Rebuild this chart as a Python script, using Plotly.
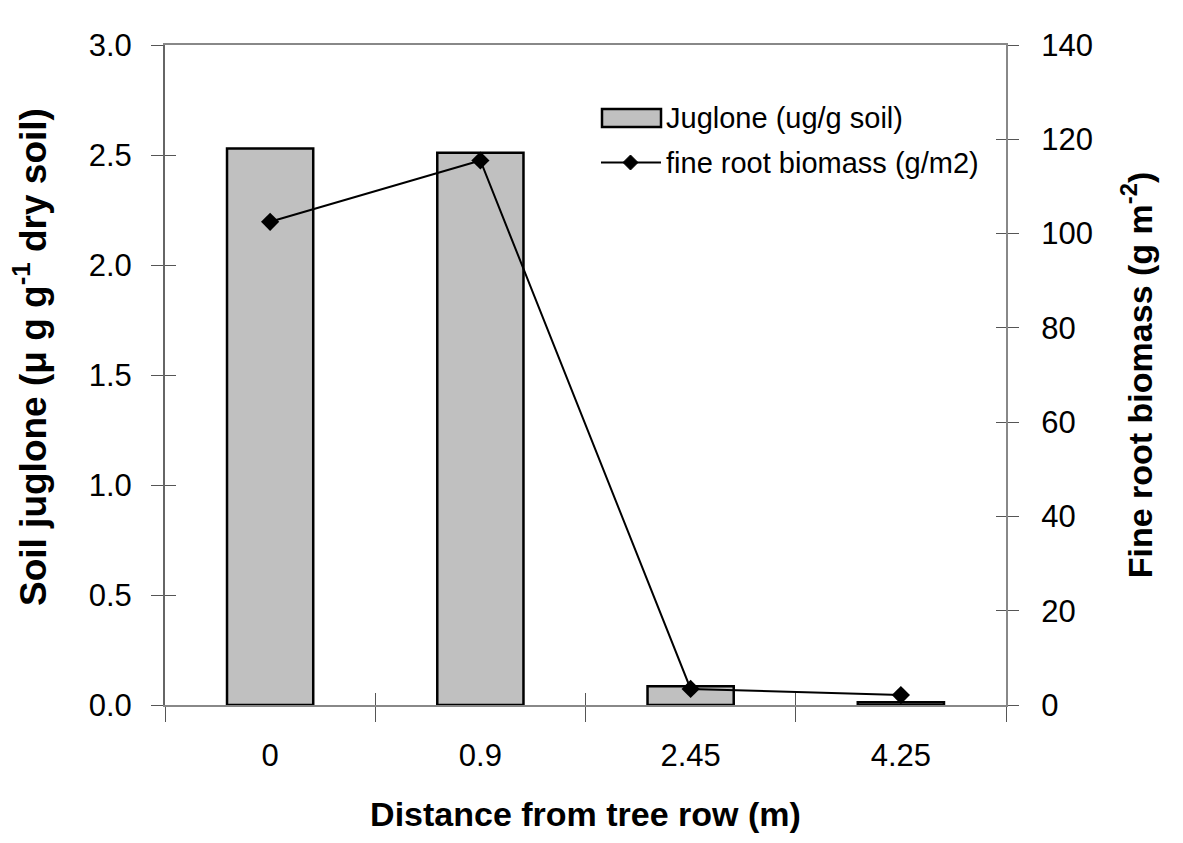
import plotly.graph_objects as go

categories = ["0", "0.9", "2.45", "4.25"]
juglone = [2.53, 2.51, 0.085, 0.012]
root_biomass = [102.5, 115.5, 3.4, 2.1]
y_ticks = [0.0, 0.5, 1.0, 1.5, 2.0, 2.5, 3.0]
y2_ticks = [0, 20, 40, 60, 80, 100, 120, 140]
legend_labels = ["Juglone (ug/g soil)", "fine root biomass (g/m2)"]

FONT = "Liberation Sans, Arial, sans-serif"
W, H = 1183, 843
L, R, T, B = 165, 177, 45, 138
PW, PH = W - L - R, H - T - B


def px(x):
    return (x - L) / PW


def py(y):
    return (H - B - y) / PH


idx = list(range(len(categories)))

fig = go.Figure()
fig.add_trace(go.Bar(
    x=categories, y=juglone, name=legend_labels[0],
    marker=dict(color="#C0C0C0", line=dict(color="black", width=2.5)),
    width=0.41,
))
fig.add_trace(go.Scatter(
    x=categories, y=root_biomass, name=legend_labels[1],
    mode="lines+markers", yaxis="y2",
    line=dict(color="black", width=2),
    marker=dict(symbol="diamond", size=14, color="black"),
))
# invisible helper traces so the overlay axes (inner halves of the crossing ticks) get drawn
fig.add_trace(go.Scatter(x=idx, y=juglone, xaxis="x2", yaxis="y3", mode="markers",
                         marker=dict(opacity=0), hoverinfo="skip", showlegend=False))
fig.add_trace(go.Scatter(x=idx, y=root_biomass, xaxis="x2", yaxis="y4", mode="markers",
                         marker=dict(opacity=0), hoverinfo="skip", showlegend=False))

tick_font = dict(size=31)
fig.update_layout(
    width=W, height=H,
    margin=dict(l=L, r=R, t=T, b=B),
    paper_bgcolor="white", plot_bgcolor="white",
    font=dict(family=FONT, color="black", size=31),
    showlegend=False,
    xaxis=dict(
        type="category", tickson="boundaries", ticks="outside", ticklen=15,
        tickcolor="#555", tickwidth=1, showline=True, linecolor="#888", linewidth=2,
        mirror=True, showgrid=False, ticklabelstandoff=22,
        title=dict(text="<b>Distance from tree row (m)</b>", font=dict(size=34), standoff=30),
        tickfont=tick_font,
    ),
    xaxis2=dict(
        overlaying="x", range=[-0.5, 3.5], tickvals=[-0.5, 0.5, 1.5, 2.5, 3.5],
        ticks="inside", ticklen=12, tickcolor="#555", tickwidth=1,
        showticklabels=False, showgrid=False, zeroline=False, showline=False,
        side="bottom", anchor="y",
    ),
    yaxis=dict(
        range=[0, 3.0], tickvals=y_ticks, ticktext=[f"{v:.1f}" for v in y_ticks],
        ticks="outside", ticklen=12, tickcolor="#555", tickwidth=1,
        showline=True, linecolor="#666", linewidth=2, showgrid=False, zeroline=False,
        ticklabelstandoff=13,
        tickfont=tick_font,
    ),
    yaxis3=dict(
        overlaying="y", range=[0, 3.0], tickvals=y_ticks, side="left", anchor="x2",
        ticks="inside", ticklen=11, tickcolor="#555", tickwidth=1,
        showticklabels=False, showgrid=False, zeroline=False, showline=False,
    ),
    yaxis2=dict(
        range=[0, 140], tickvals=y2_ticks, overlaying="y", side="right",
        ticks="outside", ticklen=11, tickcolor="#555", tickwidth=1,
        showline=True, linecolor="#888", linewidth=2, showgrid=False, zeroline=False,
        ticklabelstandoff=16,
        title=dict(text="<b>Fine root biomass (g m<sup>-2</sup>)</b>", font=dict(size=34), standoff=36),
        tickfont=tick_font,
    ),
    yaxis4=dict(
        overlaying="y", range=[0, 140], tickvals=y2_ticks, side="right", anchor="x2",
        ticks="inside", ticklen=10, tickcolor="#555", tickwidth=1,
        showticklabels=False, showgrid=False, zeroline=False, showline=False,
    ),
)

# custom legend (drawn in paper coordinates)
shapes = [
    dict(type="rect", xref="paper", yref="paper",
         x0=px(602), x1=px(661), y0=py(127), y1=py(109),
         fillcolor="#C0C0C0", line=dict(color="black", width=2.5)),
    dict(type="line", xref="paper", yref="paper",
         x0=px(601), x1=px(661), y0=py(162.5), y1=py(162.5),
         line=dict(color="black", width=2)),
    dict(type="path", xref="paper", yref="paper",
         path=(f"M {px(623)},{py(162.5)} L {px(630.5)},{py(155)} "
               f"L {px(638)},{py(162.5)} L {px(630.5)},{py(170)} Z"),
         fillcolor="black", line=dict(color="black", width=1)),
]
annotations = [
    dict(text=legend_labels[0], xref="paper", yref="paper", x=px(664), y=py(118),
         xanchor="left", yanchor="middle", showarrow=False, font=dict(size=29)),
    dict(text=legend_labels[1], xref="paper", yref="paper", x=px(664), y=py(163),
         xanchor="left", yanchor="middle", showarrow=False, font=dict(size=29)),
    dict(text="<b>Soil juglone (μ g g<sup>-1</sup> dry soil)</b>", xref="paper", yref="paper",
         x=px(30), y=py(357), xanchor="center", yanchor="middle", textangle=-90,
         showarrow=False, font=dict(size=37)),
]
fig.update_layout(shapes=shapes, annotations=annotations)

fig.write_html("out.html")
